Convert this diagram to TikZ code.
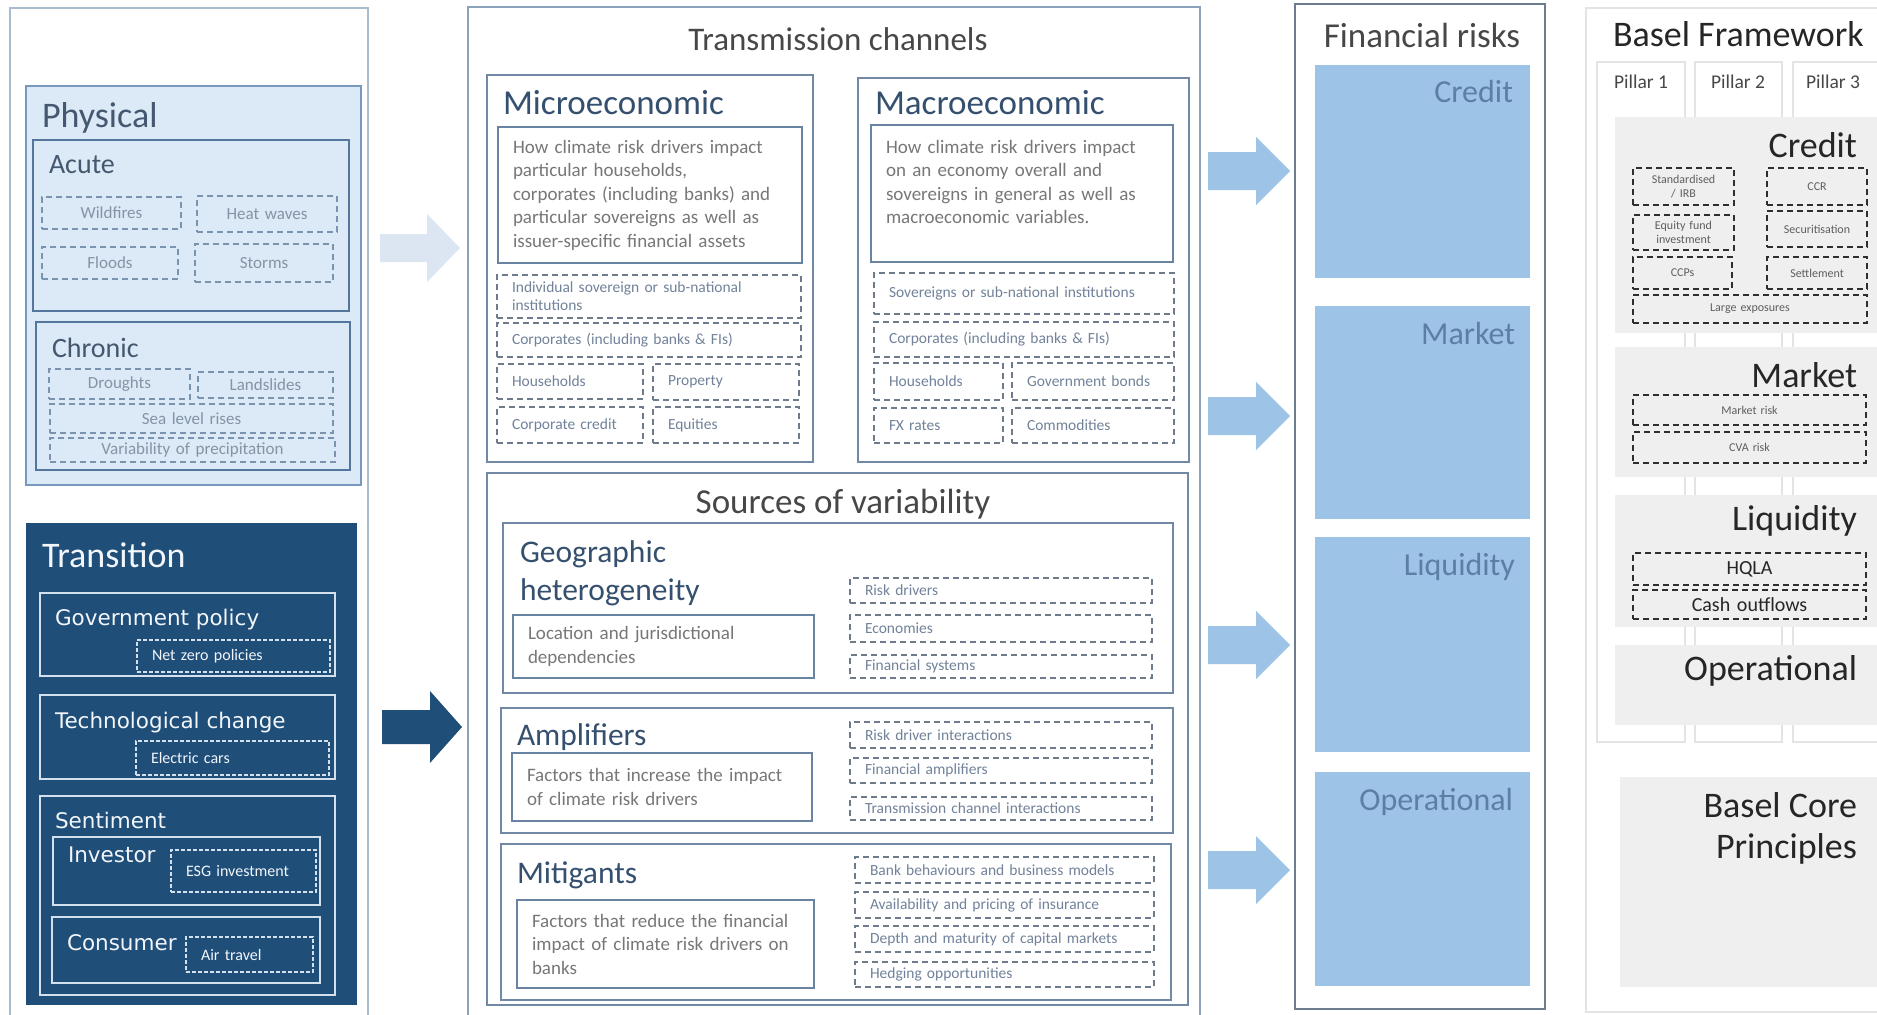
\documentclass[tikz,border=0pt]{standalone}
\usepackage{fontspec}
\setmainfont{Carlito}
\newfontfamily\dvfont{DejaVu Sans}

\definecolor{panelbd}{HTML}{A9BBCE}
\definecolor{midpanelbd}{HTML}{8CA2BA}
\definecolor{physfill}{HTML}{DCE9F6}
\definecolor{physbd}{HTML}{7899BD}
\definecolor{acutebd}{HTML}{55769C}
\definecolor{physdash}{HTML}{7A93AF}
\definecolor{phystext}{HTML}{44586F}
\definecolor{physitemc}{HTML}{8494A6}
\definecolor{transfill}{HTML}{1F4E79}
\definecolor{transbd}{HTML}{D3E0EE}
\definecolor{transtext}{HTML}{F2F6FA}
\definecolor{secbd}{HTML}{7189A5}
\definecolor{titledark}{HTML}{474747}
\definecolor{microtitle}{HTML}{35506F}
\definecolor{desctext}{HTML}{777777}
\definecolor{descbd}{HTML}{6984A3}
\definecolor{middashc}{HTML}{6E7B8B}
\definecolor{midtext}{HTML}{71829A}
\definecolor{frfill}{HTML}{9DC3E6}
\definecolor{frtext}{HTML}{5B7FA7}
\definecolor{frbd}{HTML}{6D7C8E}
\definecolor{basebd}{HTML}{E4E4E4}
\definecolor{basefill}{HTML}{EFEFEF}
\definecolor{basetext}{HTML}{262626}
\definecolor{basedashc}{HTML}{2E2E2E}
\definecolor{baseitemc}{HTML}{5E5E5E}
\definecolor{lightarrow}{HTML}{DCE6F2}

\newcommand{\fpt}[2]{\fontsize{#1pt}{#2pt}\selectfont}

% empty box: style, name, x1, y1, x2, y2 (pixel coordinates)
\newcommand{\mkbox}[6]{%
  \pgfmathsetlengthmacro\bxw{(#5-#3)*0.5pt}%
  \pgfmathsetlengthmacro\bxh{(#6-#4)*0.5pt}%
  \node[inner sep=0pt,anchor=north west,minimum width=\bxw,minimum height=\bxh,#1] (#2) at (#3,#4) {};}
% box with text: style, name, x1, y1, x2, y2, text
\newcommand{\mktext}[7]{%
  \pgfmathsetlengthmacro\bxw{(#5-#3)*0.5pt-15pt}%
  \pgfmathsetlengthmacro\bxh{(#6-#4)*0.5pt}%
  \node[anchor=north west,inner xsep=7.5pt,inner ysep=0pt,text width=\bxw,minimum height=\bxh,#1] (#2) at (#3,#4) {#7};}
% block arrow: style, x1, xhead, xtip, ycenter, shaft half, head half
\newcommand{\blockarrow}[7]{%
  \fill[#1] (#2,#5-#6) -- (#3,#5-#6) -- (#3,#5-#7) -- (#4,#5) -- (#3,#5+#7) -- (#3,#5+#6) -- (#2,#5+#6) -- cycle;}

\tikzset{
  every node/.style={outer sep=0pt},
  ttl/.style={inner sep=0pt,anchor=base west},
  panel/.style={draw=panelbd,line width=1pt},
  midpanel/.style={draw=midpanelbd,line width=1.1pt},
  physbox/.style={draw=physbd,fill=physfill,line width=1.2pt},
  acutebox/.style={draw=acutebd,fill=physfill,line width=1.3pt},
  physitem/.style={draw=physdash,dash pattern=on 3pt off 2pt,line width=0.9pt,text=physitemc,font={\fpt{8.5}{10}},align=center},
  transbox/.style={fill=transfill},
  tsub/.style={draw=transbd,line width=1pt},
  ttitle/.style={ttl,text=transtext,font={\dvfont\fpt{10.75}{13}}},
  tdash/.style={draw=transbd,dash pattern=on 1.8pt off 1.2pt,line width=0.9pt,text=transtext,font={\fpt{8}{9.5}},align=left},
  secbox/.style={draw=secbd,fill=white,line width=1pt},
  descbox/.style={draw=descbd,line width=1.1pt,text=desctext,font={\fpt{9.5}{11.75}},align=left},
  middash/.style={draw=middashc,dash pattern=on 3pt off 2pt,line width=0.8pt,text=midtext,font={\fpt{7.75}{9}},align=left},
  frpanel/.style={draw=frbd,line width=1pt},
  frbox/.style={fill=frfill},
  frlabel/.style={inner sep=0pt,anchor=base east,text=frtext,font={\fpt{16}{19}}},
  basepanel/.style={draw=basebd,line width=1.2pt},
  pillar/.style={draw=basebd,fill=white,line width=1.2pt},
  basegray/.style={fill=basefill},
  baselabel/.style={inner sep=0pt,anchor=base east,text=basetext,font={\fpt{18}{21}}},
  basedash/.style={draw=basedashc,dash pattern=on 3pt off 2pt,line width=1pt,text=baseitemc,font={\fpt{6}{7}},align=center},
  basedashbig/.style={basedash,text=basetext,font={\fpt{10}{12}}}
}

\begin{document}
\begin{tikzpicture}[x=0.5pt,y=-0.5pt]
\useasboundingbox (0,0) rectangle (1877,1014);
\clip (0,0) rectangle (1877,1014);
\fill[white] (0,0) rectangle (1877,1014);

% ================= LEFT: climate risk drivers
\mkbox{panel}{leftpanel}{10}{8}{368}{1030}
\mkbox{physbox}{physical}{26}{86}{361}{485}
\node[ttl,text=phystext,font={\fpt{18}{22}}] (physT) at (42,127) {Physical};
\mkbox{acutebox}{acute}{33}{140}{349}{311}
\node[ttl,text=phystext,font={\fpt{14}{17}}] (acuteT) at (49,173) {Acute};
\mktext{physitem}{wildfires}{42}{197}{181}{229}{Wildfires}
\mktext{physitem}{heatwaves}{197}{196}{337}{232}{Heat waves}
\mktext{physitem}{floods}{42}{247}{178}{279}{Floods}
\mktext{physitem}{storms}{195}{244}{333}{282}{Storms}
\mkbox{acutebox}{chronic}{36}{322}{350}{470}
\node[ttl,text=phystext,font={\fpt{14}{17}}] (chronicT) at (52,357) {Chronic};
\mktext{physitem}{droughts}{49}{369}{190}{399}{Droughts}
\mktext{physitem}{landslides}{198}{372}{333}{398}{Landslides}
\mktext{physitem}{sealevel}{50}{404}{333}{433}{Sea level rises}
\mktext{physitem}{precip}{50}{438}{335}{462}{Variability of precipitation}

\mkbox{transbox}{transition}{26}{523}{357}{1005}
\node[ttl,text=transtext,font={\fpt{18}{22}}] (transT) at (42,567) {Transition};
\mkbox{tsub}{govbox}{40}{593}{335}{676}
\node[ttitle] (govT) at (55,625) {Government policy};
\mktext{tdash}{netzero}{137}{640}{330}{672}{Net zero policies}
\mkbox{tsub}{techbox}{40}{695}{335}{779}
\node[ttitle] (techT) at (55,728) {Technological change};
\mktext{tdash}{electric}{136}{741}{329}{775}{Electric cars}
\mkbox{tsub}{sentbox}{40}{796}{335}{995}
\node[ttitle] (sentT) at (55,828) {Sentiment};
\mkbox{tsub}{invbox}{53}{837}{320}{905}
\node[ttitle] (invT) at (68,862) {Investor};
\mktext{tdash}{esg}{171}{850}{316}{892}{ESG investment}
\mkbox{tsub}{consbox}{52}{917}{320}{983}
\node[ttitle] (consT) at (67,950) {Consumer};
\mktext{tdash}{airtravel}{186}{937}{313}{972}{Air travel}

% arrows into transmission channels
\blockarrow{lightarrow}{380}{427}{460}{248}{14}{34}
\blockarrow{transfill}{382}{430}{462}{727}{17}{36}

% ================= MIDDLE: transmission channels
\mkbox{midpanel}{midpanel}{468}{7}{1200}{1030}
\node[inner sep=0pt,anchor=base,text=titledark,font={\fpt{16.5}{20}}] (tcT) at (838,50) {Transmission channels};

\mkbox{secbox}{micro}{487}{75}{813}{462}
\node[ttl,text=microtitle,font={\fpt{17.5}{21}}] (microT) at (503,114) {Microeconomic};
\mktext{descbox}{microdesc}{498}{127}{802}{263}{How climate risk drivers impact\\ particular households,\\ corporates (including banks) and\\ particular sovereigns as well as\\ issuer-specific financial assets}
\mktext{middash}{mi1}{497}{275}{801}{318}{Individual sovereign or sub-national\\ institutions}
\mktext{middash}{mi2}{497}{323}{801}{357}{Corporates (including banks \& FIs)}
\mktext{middash}{mi3}{497}{364}{643}{399}{Households}
\mktext{middash}{mi4}{653}{364}{799}{400}{Property}
\mktext{middash}{mi5}{497}{407}{643}{443}{Corporate credit}
\mktext{middash}{mi6}{653}{407}{799}{443}{Equities}

\mkbox{secbox}{macro}{858}{78}{1189}{462}
\node[ttl,text=microtitle,font={\fpt{17.5}{21}}] (macroT) at (875,114) {Macroeconomic};
\mktext{descbox}{macrodesc}{871}{125}{1173}{262}{How climate risk drivers impact\\ on an economy overall and\\ sovereigns in general as well as\\ macroeconomic variables.\\ ~}
\mktext{middash}{ma1}{874}{273}{1174}{314}{Sovereigns or sub-national institutions}
\mktext{middash}{ma2}{874}{322}{1174}{357}{Corporates (including banks \& FIs)}
\mktext{middash}{ma3}{874}{363}{1003}{400}{Households}
\mktext{middash}{ma4}{1012}{363}{1174}{400}{Government bonds}
\mktext{middash}{ma5}{874}{408}{1003}{443}{FX rates}
\mktext{middash}{ma6}{1012}{408}{1174}{443}{Commodities}

\mkbox{secbox}{sov}{487}{473}{1188}{1005}
\node[inner sep=0pt,anchor=base,text=titledark,font={\fpt{17.5}{21}}] (sovT) at (843,513) {Sources of variability};

\mkbox{secbox}{geo}{503}{523}{1173}{693}
\node[ttl,text=microtitle,font={\fpt{15.75}{19}}] (geoT1) at (520,562) {Geographic};
\node[ttl,text=microtitle,font={\fpt{15.75}{19}}] (geoT2) at (520,600) {heterogeneity};
\mktext{descbox}{geodesc}{513}{615}{814}{678}{Location and jurisdictional\\ dependencies}
\mktext{middash}{riskdrivers}{850}{578}{1152}{603}{Risk drivers}
\mktext{middash}{economies}{850}{615}{1152}{642}{Economies}
\mktext{middash}{finsys}{850}{655}{1152}{678}{Financial systems}

\mkbox{secbox}{amp}{501}{708}{1173}{833}
\node[ttl,text=microtitle,font={\fpt{15.75}{19}}] (ampT) at (517,745) {Amplifiers};
\mktext{descbox}{ampdesc}{512}{753}{812}{821}{Factors that increase the impact\\ of climate risk drivers}
\mktext{middash}{rdi}{850}{722}{1152}{748}{Risk driver interactions}
\mktext{middash}{finamp}{850}{758}{1152}{783}{Financial amplifiers}
\mktext{middash}{tci}{850}{797}{1152}{820}{Transmission channel interactions}

\mkbox{secbox}{mit}{501}{844}{1171}{1000}
\node[ttl,text=microtitle,font={\fpt{15.75}{19}}] (mitT) at (517,883) {Mitigants};
\mktext{descbox}{mitdesc}{517}{900}{814}{988}{Factors that reduce the financial\\ impact of climate risk drivers on\\ banks}
\mktext{middash}{bbm}{855}{857}{1154}{883}{Bank behaviours and business models}
\mktext{middash}{ins}{855}{892}{1154}{918}{Availability and pricing of insurance}
\mktext{middash}{dep}{855}{926}{1154}{952}{Depth and maturity of capital markets}
\mktext{middash}{hedge}{855}{962}{1154}{987}{Hedging opportunities}

% arrows into financial risks
\blockarrow{frfill}{1208}{1256}{1290}{171}{19}{34}
\blockarrow{frfill}{1208}{1256}{1290}{416}{19}{34}
\blockarrow{frfill}{1208}{1256}{1290}{645}{19}{34}
\blockarrow{frfill}{1208}{1256}{1290}{870}{19}{34}

% ================= FINANCIAL RISKS
\mkbox{frpanel}{frpanel}{1295}{4}{1545}{1009}
\node[inner sep=0pt,anchor=base,text=titledark,font={\fpt{17.5}{21}}] (frT) at (1422,47) {Financial risks};
\mkbox{frbox}{frcredit}{1315}{65}{1530}{278}
\node[frlabel] (frcreditT) at (1513,102) {Credit};
\mkbox{frbox}{frmarket}{1315}{306}{1530}{519}
\node[frlabel] (frmarketT) at (1515,344) {Market};
\mkbox{frbox}{frliq}{1315}{537}{1530}{752}
\node[frlabel] (frliqT) at (1515,575) {Liquidity};
\mkbox{frbox}{frop}{1315}{772}{1530}{986}
\node[frlabel] (fropT) at (1513,810) {Operational};

% ================= BASEL
\mkbox{basepanel}{basel}{1586}{8}{1900}{1012}
\node[ttl,text=basetext,font={\fpt{18}{21}}] (baselT) at (1613,46) {Basel Framework};
\mkbox{pillar}{p1}{1597}{62}{1685}{742}
\mkbox{pillar}{p2}{1695}{62}{1782}{742}
\mkbox{pillar}{p3}{1793}{62}{1900}{742}
\node[inner sep=0pt,anchor=base,text=basetext!85,font={\fpt{9.75}{12}}] (p1T) at (1641,88) {Pillar 1};
\node[inner sep=0pt,anchor=base,text=basetext!85,font={\fpt{9.75}{12}}] (p2T) at (1738,88) {Pillar 2};
\node[inner sep=0pt,anchor=base,text=basetext!85,font={\fpt{9.75}{12}}] (p3T) at (1833,88) {Pillar 3};

\mkbox{basegray}{bcredit}{1615}{117}{1890}{333}
\node[baselabel] (bcreditT) at (1857,157) {Credit};
\mktext{basedash}{sirb}{1633}{168}{1734}{205}{Standardised\\ / IRB}
\mktext{basedash}{ccr}{1767}{168}{1867}{205}{CCR}
\mktext{basedash}{efi}{1633}{215}{1734}{250}{Equity fund\\ investment}
\mktext{basedash}{secur}{1767}{211}{1867}{247}{Securitisation}
\mktext{basedash}{ccps}{1633}{257}{1732}{289}{CCPs}
\mktext{basedash}{settle}{1767}{257}{1867}{289}{Settlement}
\mktext{basedash}{largeexp}{1633}{295}{1867}{323}{Large exposures}

\mkbox{basegray}{bmarket}{1615}{347}{1890}{477}
\node[baselabel] (bmarketT) at (1857,387) {Market};
\mktext{basedash}{mktrisk}{1633}{395}{1866}{425}{Market risk}
\mktext{basedash}{cvarisk}{1633}{432}{1866}{463}{CVA risk}

\mkbox{basegray}{bliq}{1615}{495}{1890}{627}
\node[baselabel] (bliqT) at (1857,530) {Liquidity};
\mktext{basedashbig}{hqla}{1633}{553}{1866}{585}{HQLA}
\mktext{basedashbig}{cash}{1633}{590}{1866}{619}{Cash outflows}

\mkbox{basegray}{bop}{1615}{645}{1890}{725}
\node[baselabel] (bopT) at (1857,680) {Operational};

\mkbox{basegray}{bcore}{1620}{777}{1890}{987}
\node[baselabel] (bcoreT1) at (1857,817) {Basel Core};
\node[baselabel] (bcoreT2) at (1857,858) {Principles};
\end{tikzpicture}
\end{document}
